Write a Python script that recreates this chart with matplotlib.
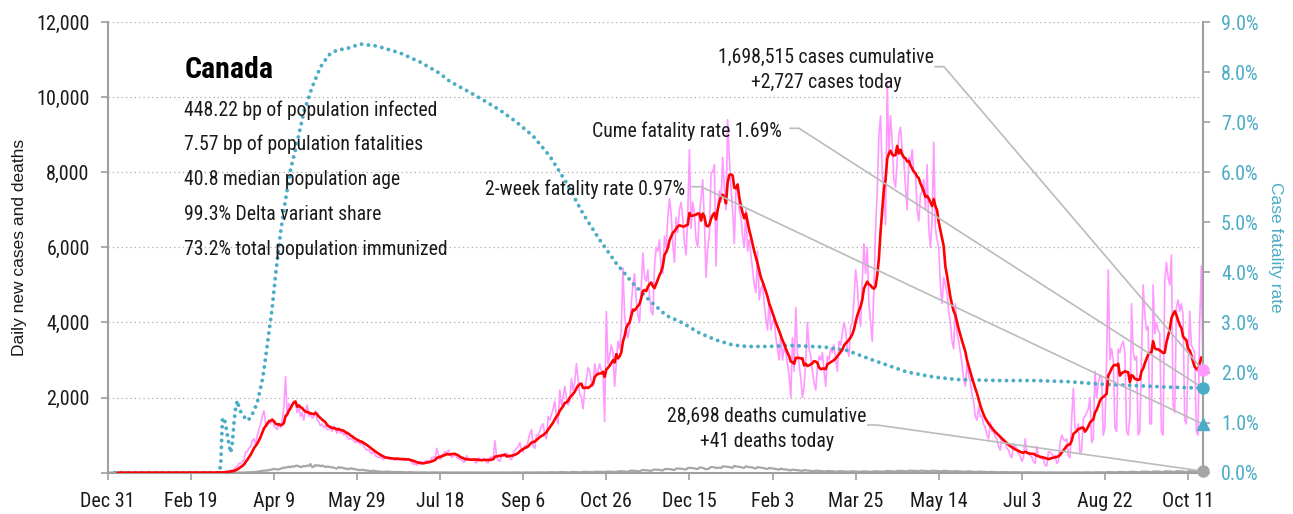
import matplotlib
matplotlib.use("Agg")
import matplotlib.pyplot as plt
from matplotlib import font_manager
from matplotlib.ticker import FuncFormatter
import matplotlib.dates as mdates
import numpy as np
import pandas as pd

#########   Data   #########

start_date = "2019-12-31"

# daily new cases, one row per week (Tue..Mon)
daily_cases = [
    0, 0, 0, 0, 0, 0, 0,
    0, 0, 0, 0, 0, 0, 0,
    0, 0, 0, 0, 0, 0, 0,
    0, 0, 0, 0, 1, 0, 1,
    0, 1, 0, 0, 1, 0, 0,
    0, 1, 0, 0, 0, 0, 0,
    0, 0, 0, 0, 0, 1, 0,
    0, 0, 1, 0, 0, 0, 0,
    0, 1, 2, 1, 2, 4, 4,
    3, 4, 8, 6, 6, 11, 15,
    14, 28, 45, 52, 58, 62, 84,
    150, 170, 250, 240, 300, 340, 550,
    560, 650, 700, 850, 900, 760, 1000,
    1150, 1300, 1500, 1650, 1300, 1250, 1400,
    1300, 1450, 1250, 1200, 1150, 1300, 1200,
    1400, 1750, 2560, 1500, 1850, 1750, 1800,
    1900, 1900, 1600, 1750, 1500, 1600, 1400,
    1650, 1800, 1500, 1600, 1450, 1500, 1650,
    1400, 1350, 1250, 1300, 1200, 1250, 1150,
    1150, 1200, 1100, 1250, 1150, 1050, 1200,
    1050, 1100, 1000, 1050, 950, 900, 900,
    900, 850, 800, 850, 800, 750, 800,
    700, 650, 600, 620, 550, 500, 600,
    450, 430, 400, 420, 380, 350, 420,
    400, 380, 360, 370, 350, 330, 400,
    380, 360, 340, 350, 320, 340, 380,
    300, 280, 220, 240, 200, 250, 300,
    280, 260, 300, 330, 250, 290, 400,
    420, 380, 650, 480, 350, 400, 500,
    560, 520, 600, 480, 400, 450, 500,
    400, 380, 350, 340, 280, 300, 450,
    380, 330, 350, 370, 280, 260, 400,
    360, 320, 380, 370, 280, 260, 410,
    420, 400, 850, 420, 330, 300, 480,
    480, 500, 520, 470, 380, 350, 520,
    600, 650, 700, 800, 600, 550, 720,
    700, 850, 1050, 1150, 700, 650, 1000,
    1000, 1100, 1250, 1300, 1000, 900, 1500,
    1400, 1550, 1700, 1900, 1500, 1300, 2200,
    1800, 2000, 2300, 2000, 1800, 1900, 2500,
    2200, 2400, 2900, 2500, 2100, 2000, 1700,
    2200, 2500, 2800, 2700, 2400, 2300, 2900,
    2600, 2700, 2900, 2700, 2700, 1360, 4290,
    2900, 3100, 3400, 3200, 2300, 2900, 3500,
    3300, 3800, 5450, 4200, 3800, 3600, 3850,
    4500, 5000, 5300, 4600, 4200, 4000, 4900,
    5850, 5200, 5100, 5400, 4700, 4300, 4200,
    5500, 6000, 5900, 6200, 5400, 5300, 6300,
    6000, 6800, 7300, 6900, 6100, 5600, 6800,
    6400, 7000, 7200, 6800, 6100, 5800, 6900,
    8600, 6500, 7200, 6900, 6200, 6000, 6900,
    7300, 7800, 6700, 5200, 6000, 6300, 8000,
    8000, 8200, 5500, 7000, 7500, 7200, 8400,
    7600, 7000, 9400, 8400, 7600, 7000, 6100,
    7500, 7700, 7000, 6800, 6300, 6000, 7000,
    5900, 6200, 5800, 5400, 5000, 4800, 5900,
    4600, 4900, 5000, 4500, 4100, 3800, 4600,
    3800, 4000, 4100, 3600, 3300, 3000, 3700,
    3000, 3300, 3200, 2900, 2600, 2000, 3600,
    2700, 4400, 3200, 2900, 2500, 2000, 2300,
    3000, 4000, 3300, 3100, 2700, 2400, 2200,
    2800, 3100, 3000, 3200, 2700, 2300, 3100,
    3000, 3300, 3200, 3400, 3000, 2700, 3500,
    3400, 3700, 4000, 3800, 3300, 3100, 3900,
    4000, 4600, 5400, 5000, 4200, 3900, 5100,
    6100, 5300, 6000, 4500, 4000, 3500, 4900,
    6500, 7500, 9000, 9500, 8000, 7500, 6600,
    10400, 8500, 9500, 8800, 7800, 7600, 8300,
    9000, 9200, 8600, 8300, 7600, 7000, 8400,
    8200, 8600, 8000, 8000, 7000, 6700, 7400,
    7500, 7800, 7000, 8200, 6500, 6000, 6700,
    8800, 6500, 6200, 6000, 5000, 4500, 5200,
    5000, 4800, 4300, 4000, 3500, 3300, 4500,
    3700, 3500, 3200, 2900, 2500, 2300, 2900,
    2600, 2400, 2100, 1900, 1500, 1400, 1750,
    1500, 1500, 1300, 1200, 1000, 900, 1350,
    1100, 1100, 950, 900, 700, 600, 950,
    900, 800, 650, 600, 450, 400, 750,
    700, 650, 500, 450, 300, 400, 900,
    550, 500, 450, 420, 300, 250, 700,
    450, 400, 380, 350, 200, 180, 560,
    550, 500, 450, 450, 250, 300, 800,
    1000, 900, 850, 900, 450, 400, 1450,
    2250, 1200, 1100, 1300, 500, 600, 1450,
    1500, 1600, 1700, 2000, 800, 900, 2700,
    2000, 2400, 2600, 2500, 1000, 1200, 3000,
    5400, 3000, 3300, 3000, 1200, 1100, 3300,
    3200, 3400, 3500, 3200, 1100, 1000, 1500,
    4500, 3200, 3000, 3100, 1000, 1100, 3000,
    5000, 4200, 3800, 3900, 1300, 1300, 5000,
    3700, 4000, 3800, 3700, 1100, 1000, 5100,
    5600, 5200, 5000, 5800, 1800, 1600, 4400,
    4600, 4300, 4500, 4200, 1400, 1300, 2800,
    4300, 3400, 3300, 3200, 1100, 1000, 4000,
    5500, 2727,
]

# daily new deaths, same layout
daily_deaths = [
    0, 0, 0, 0, 0, 0, 0,
    0, 0, 0, 0, 0, 0, 0,
    0, 0, 0, 0, 0, 0, 0,
    0, 0, 0, 0, 0, 0, 0,
    0, 0, 0, 0, 0, 0, 0,
    0, 0, 0, 0, 0, 0, 0,
    0, 0, 0, 0, 0, 0, 0,
    0, 0, 0, 0, 0, 0, 0,
    0, 0, 0, 0, 0, 0, 0,
    0, 0, 0, 0, 0, 0, 1,
    0, 0, 0, 1, 1, 2, 3,
    2, 3, 4, 3, 5, 4, 6,
    8, 11, 10, 16, 20, 14, 24,
    38, 35, 50, 58, 55, 60, 68,
    80, 88, 100, 95, 90, 85, 108,
    118, 140, 128, 150, 160, 145, 170,
    160, 182, 190, 168, 150, 162, 178,
    170, 192, 180, 230, 150, 158, 208,
    182, 198, 172, 190, 176, 150, 160,
    158, 150, 140, 138, 118, 110, 150,
    130, 138, 120, 110, 100, 92, 118,
    108, 100, 90, 82, 72, 70, 80,
    70, 62, 58, 50, 42, 40, 58,
    42, 35, 30, 30, 24, 20, 30,
    26, 30, 24, 20, 16, 14, 20,
    20, 16, 14, 12, 10, 8, 14,
    12, 10, 10, 8, 6, 5, 10,
    9, 8, 7, 6, 5, 4, 9,
    8, 7, 6, 6, 4, 4, 8,
    7, 6, 6, 5, 4, 3, 8,
    6, 6, 5, 5, 3, 3, 7,
    6, 5, 5, 4, 3, 3, 6,
    5, 6, 5, 4, 3, 2, 6,
    6, 5, 5, 4, 3, 3, 7,
    6, 6, 5, 5, 3, 3, 8,
    7, 6, 6, 5, 4, 3, 8,
    8, 7, 6, 6, 4, 4, 9,
    10, 9, 8, 7, 5, 5, 11,
    12, 11, 10, 9, 6, 6, 14,
    16, 15, 13, 12, 8, 8, 18,
    20, 18, 17, 15, 10, 10, 22,
    24, 22, 20, 19, 14, 13, 26,
    26, 25, 24, 22, 18, 16, 30,
    30, 28, 27, 25, 20, 18, 34,
    40, 38, 35, 33, 26, 24, 45,
    55, 52, 48, 46, 38, 35, 60,
    70, 68, 65, 62, 52, 48, 75,
    85, 82, 78, 75, 65, 60, 92,
    100, 98, 95, 90, 78, 72, 110,
    112, 110, 105, 100, 90, 85, 125,
    128, 125, 120, 118, 100, 95, 140,
    135, 130, 110, 90, 100, 120, 150,
    150, 145, 120, 135, 130, 125, 170,
    165, 160, 158, 150, 140, 130, 180,
    168, 160, 155, 150, 135, 128, 172,
    155, 150, 145, 138, 120, 112, 150,
    140, 135, 128, 120, 105, 98, 130,
    118, 112, 108, 100, 88, 82, 110,
    95, 90, 85, 80, 68, 62, 85,
    75, 72, 68, 62, 52, 48, 70,
    62, 58, 55, 50, 42, 38, 56,
    50, 46, 44, 40, 32, 30, 48,
    42, 40, 38, 35, 28, 25, 40,
    38, 36, 34, 32, 26, 24, 38,
    36, 34, 32, 30, 24, 22, 36,
    35, 33, 32, 30, 24, 22, 36,
    38, 36, 35, 33, 28, 26, 40,
    45, 42, 40, 38, 32, 30, 48,
    50, 48, 46, 44, 38, 35, 52,
    52, 50, 48, 46, 40, 38, 55,
    52, 50, 48, 45, 40, 36, 54,
    50, 48, 46, 42, 36, 34, 50,
    45, 42, 40, 36, 32, 30, 44,
    38, 36, 34, 30, 26, 24, 36,
    32, 30, 28, 25, 20, 18, 30,
    26, 24, 22, 20, 16, 14, 24,
    20, 18, 16, 15, 12, 10, 18,
    15, 14, 12, 11, 9, 8, 14,
    12, 11, 10, 9, 7, 6, 11,
    10, 9, 8, 7, 5, 5, 9,
    8, 7, 7, 6, 4, 4, 8,
    7, 7, 6, 5, 4, 3, 7,
    7, 6, 6, 5, 4, 3, 8,
    8, 7, 7, 6, 4, 4, 9,
    10, 9, 8, 7, 5, 5, 11,
    12, 11, 10, 9, 6, 6, 14,
    16, 15, 14, 12, 8, 8, 18,
    20, 19, 18, 16, 10, 10, 22,
    24, 22, 21, 19, 12, 12, 28,
    28, 27, 26, 24, 16, 15, 32,
    32, 30, 30, 28, 18, 17, 36,
    36, 34, 33, 31, 20, 19, 40,
    40, 38, 36, 34, 22, 20, 30,
    42, 39, 37, 35, 22, 21, 44,
    45, 41,
]

# cumulative case fatality rate (%), by day since start_date
cfr_days = [0, 67, 68, 69, 70, 71, 72, 73, 74, 75, 76, 77, 78, 79, 80, 82, 84, 86,
            88, 90, 91, 93, 94, 95, 96, 97, 99, 101, 104, 107, 110, 114, 118, 123,
            128, 133, 138, 144, 152, 162, 176, 188, 200, 206, 216, 226, 236, 246,
            256, 266, 276, 286, 296, 306, 316, 326, 336, 346, 356, 366, 376, 385,
            397, 411, 431, 445, 461, 481, 497, 511, 537, 557, 577, 597, 617, 637, 659]
cfr_pct = [0.0, 0.0, 0.15, 1.05, 1.1, 0.95, 0.75, 0.55, 0.4, 0.6, 1.0, 1.3, 1.44, 1.3,
           1.22, 1.12, 1.04, 1.1, 1.24, 1.4, 1.55, 1.85, 2.05, 2.3, 2.55, 2.8, 3.3,
           3.95, 4.8, 5.45, 6.05, 6.6, 7.2, 7.7, 8.1, 8.34, 8.44, 8.47, 8.56, 8.52,
           8.38, 8.2, 7.97, 7.81, 7.63, 7.44, 7.24, 7.0, 6.72, 6.32, 5.79, 5.17, 4.65,
           4.18, 3.78, 3.44, 3.14, 2.99, 2.79, 2.65, 2.55, 2.52, 2.52, 2.54, 2.51,
           2.44, 2.24, 2.01, 1.91, 1.86, 1.84, 1.84, 1.82, 1.77, 1.74, 1.71, 1.69]

cases_total = 1698515
cases_today = 2727
deaths_total = 28698
deaths_today = 41
cume_cfr = 1.69
two_week_cfr = 0.97

country = "Canada"
stats_lines = [
    "448.22 bp of population infected",
    "7.57 bp of population fatalities",
    "40.8 median population age",
    "99.3% Delta variant share",
    "73.2% total population immunized",
]

#########   Style   #########

PINK = "#ff99ff"
RED = "#ff0000"
TEAL = "#4bacc6"
GRAY = "#a6a6a6"
AXIS = "#a0a0a0"
LEADER = "#bbbbbb"
INK = "#1a1a1a"

installed = {f.name for f in font_manager.fontManager.ttflist}
narrow = next((n for n in ["Liberation Sans Narrow", "Roboto Condensed"] if n in installed), None)
if narrow is None:
    narrow = "DejaVu Sans"
    plt.rcParams["font.stretch"] = "condensed"
plt.rcParams["font.family"] = [narrow, "DejaVu Sans"]

W, H = 1293, 514
TXT = 14.2


def fig_xy(px, py):
    """pixel position (from top-left) -> figure fraction"""
    return px / W, 1 - py / H


#########   Plot   #########

dates = pd.date_range(start_date, periods=len(daily_cases), freq="D")
cases = pd.Series(daily_cases, index=dates, dtype=float)
deaths = pd.Series(daily_deaths, index=dates, dtype=float)
avg7 = cases.rolling(7).mean()
cfr_dates = pd.Timestamp(start_date) + pd.to_timedelta(cfr_days, unit="D")

fig = plt.figure(figsize=(W / 100, H / 100), dpi=100)
ax = fig.add_axes([107.7 / W, 1 - 472.7 / H, (1203 - 107.7) / W, (472.7 - 22) / H])
ax2 = ax.twinx()

ax.set_xlim(dates[0], dates[-1])
ax.set_ylim(0, 12000)
ax2.set_ylim(0, 9)

ax.plot(dates, cases.values, color=PINK, lw=1.2, zorder=2)
ax.plot(dates, deaths.values, color=GRAY, lw=1.6, zorder=2.2)
ax.plot(cfr_dates, cfr_pct, transform=ax2.transData, color=TEAL, lw=2.8,
        linestyle=(0, (0.01, 1.75)), dash_capstyle="round", zorder=2.5)
ax.plot(dates, avg7.values, color=RED, lw=1.9, zorder=3)

# axes cosmetics
ax.yaxis.grid(True, linestyle=(0, (1, 2.5)), color="#aaaaaa", lw=0.9)
ax.set_axisbelow(True)
for s in ["top", "right"]:
    ax.spines[s].set_visible(False)
for s in ["top", "left", "bottom"]:
    ax2.spines[s].set_visible(False)
for sp in [ax.spines["left"], ax.spines["bottom"], ax2.spines["right"]]:
    sp.set_color(AXIS)
    sp.set_linewidth(1.5)

tick_dates = pd.date_range(start_date, periods=14, freq="50D")
ax.set_xticks(tick_dates)
ax.set_xticklabels([f"{d:%b} {d.day}" for d in tick_dates])
ax.set_yticks(np.arange(0, 12001, 2000))
ax.yaxis.set_major_formatter(FuncFormatter(lambda v, p: "" if v == 0 else f"{v:,.0f}"))
ax2.set_yticks(np.arange(0, 10, 1))
ax2.yaxis.set_major_formatter(FuncFormatter(lambda v, p: f"{v:.1f}%"))

ax.tick_params(axis="x", length=5, width=1.2, color=AXIS, pad=9, labelsize=14.5, labelcolor=INK)
ax.tick_params(axis="y", length=5, width=1.2, color=AXIS, pad=8, labelsize=14.5, labelcolor=INK)
ax2.tick_params(axis="y", length=5, width=1.2, color=AXIS, pad=8, labelsize=14.5, labelcolor=TEAL)

fig.text(*fig_xy(20, 247.5), "Daily new cases and deaths", rotation=90, ha="center", va="center",
         family="Liberation Sans", fontsize=12.5, color=INK)
fig.text(*fig_xy(1276, 247.5), "Case fatality rate", rotation=270, ha="center", va="center",
         family="Liberation Sans", fontsize=12.5, color=TEAL)

# country summary block
fig.text(*fig_xy(185, 78.3), country, fontsize=21.5, fontweight="bold", color="black", va="baseline")
for i, line in enumerate(stats_lines):
    fig.text(*fig_xy(184, 115.5 + 34.8 * i), line, fontsize=TXT, color=INK, va="baseline")

# callouts
fig.text(*fig_xy(826, 63), f"{cases_total:,} cases cumulative", fontsize=TXT, color=INK, ha="center", va="baseline")
fig.text(*fig_xy(826, 88), f"+{cases_today:,} cases today", fontsize=TXT, color=INK, ha="center", va="baseline")
fig.text(*fig_xy(782, 137), f"Cume fatality rate {cume_cfr:.2f}%", fontsize=TXT, color=INK, ha="right", va="baseline")
fig.text(*fig_xy(685, 195), f"2-week fatality rate {two_week_cfr:.2f}%", fontsize=TXT, color=INK, ha="right", va="baseline")
fig.text(*fig_xy(767, 422), f"{deaths_total:,} deaths cumulative", fontsize=TXT, color=INK, ha="center", va="baseline")
fig.text(*fig_xy(767, 447), f"+{deaths_today} deaths today", fontsize=TXT, color=INK, ha="center", va="baseline")

last = dates[-1]
ends = [
    ((935, 66.7), (last, cases_today), ax.transData),
    ((790, 128.3), (last, cume_cfr), ax2.transData),
    ((692, 186.7), (last, two_week_cfr), ax2.transData),
    ((868, 425), (last, deaths_today), ax.transData),
]
for (px, py), (xd, yd), trans in ends:
    fx, fy = fig_xy(px, py)
    ex, ey = fig.transFigure.inverted().transform(trans.transform((mdates.date2num(xd), yd)))
    ax.plot([fx, fx + 9 / W, ex], [fy, fy, ey], transform=fig.transFigure, color=LEADER,
            lw=1.2, clip_on=False, zorder=4)

# end-of-series markers
ax2.plot([last], [cases_today], "o", transform=ax.transData, color=PINK, ms=8, clip_on=False, zorder=6)
ax2.plot([last], [cume_cfr], "o", color=TEAL, ms=8, clip_on=False, zorder=6)
ax2.plot([last], [two_week_cfr], "^", color=TEAL, ms=9, clip_on=False, zorder=6)
ax2.plot([last], [deaths_today], "o", transform=ax.transData, color=GRAY, ms=8, clip_on=False, zorder=6)

fig.savefig("out.png", dpi=100)
